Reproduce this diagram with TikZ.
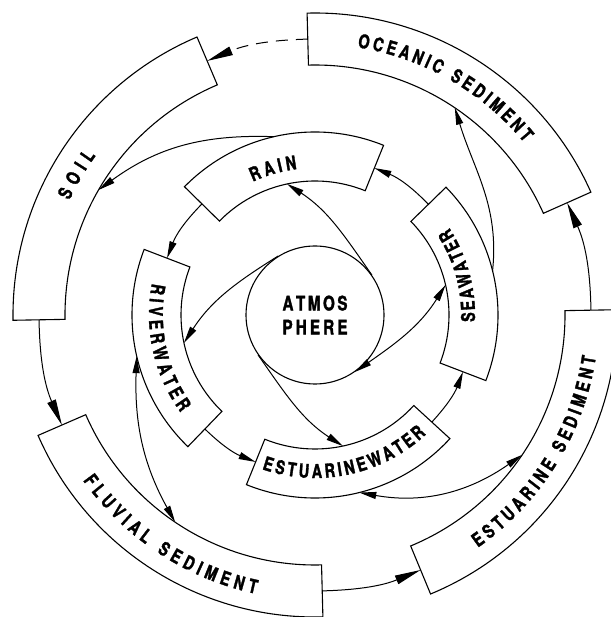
\documentclass[tikz,border=0pt]{standalone}
\usepackage{fontspec}
\newfontfamily\lblfont{TeX Gyre Heros}[FakeStretch=0.76, BoldFeatures={FakeBold=1.6}]
\usetikzlibrary{arrows.meta,decorations.text}
\newcommand{\lbl}{\lblfont\bfseries\fontsize{19}{21}\selectfont}
\tikzset{
  box/.style={draw, line width=1.1pt},
  flow/.style={line width=1pt, -{Triangle[length=17pt,width=7pt]}},
  twoway/.style={line width=1pt, {Triangle[length=17pt,width=7pt]}-{Triangle[length=17pt,width=7pt]}},
  bigflow/.style={line width=1pt, -{Triangle[length=26pt,width=9pt]}},
  ringtext/.style={decorate, decoration={text along path, text align={fit to path}, text={|\lbl|#1}}}
}
\begin{document}
\begin{tikzpicture}
\useasboundingbox (-315pt,-302pt) rectangle (295pt,315pt);
\foreach \a/\b/\r/\R in {68/135.5/134pt/183pt, 159/226/134pt/183pt, 248/317.5/134pt/183pt, -21/44.3/134pt/183pt,
    113/181/250pt/302pt, 203.5/271.5/250pt/302pt, 292.5/361/250pt/302pt, 24/91.5/250pt/302pt}
  \draw[box] (\a:\r) arc[start angle=\a, end angle=\b, radius=\r] -- (\b:\R)
    arc[start angle=\b, end angle=\a, radius=\R] -- cycle;
\node[circle, draw, line width=1.1pt, minimum size=138pt, inner sep=0pt, align=center,
  font=\lblfont\bfseries\fontsize{20}{24}\selectfont] (atm) at (0,0)
  {\makebox[65pt][s]{A\hfill T\hfill M\hfill O\hfill S}\\\makebox[65pt][s]{P\hfill H\hfill E\hfill R\hfill E}};

\coordinate (rain-e) at (68:158.5pt);
\coordinate (rain-w) at (135.5:158.5pt);
\coordinate (river-n) at (159:158.5pt);
\coordinate (river-s) at (226:158.5pt);
\coordinate (estw-w) at (248:158.5pt);
\coordinate (estw-e) at (317.5:158.5pt);
\coordinate (sea-s) at (-21:158.5pt);
\coordinate (sea-n) at (44.3:158.5pt);
\coordinate (soil-n) at (113:276pt);
\coordinate (soil-s) at (181:276pt);
\coordinate (fluv-w) at (203.5:276pt);
\coordinate (fluv-e) at (271.5:276pt);
\coordinate (estsed-s) at (292.5:276pt);
\coordinate (estsed-n) at (1:276pt);
\coordinate (ocean-e) at (24:276pt);
\coordinate (ocean-w) at (91.5:276pt);
\coordinate (rain-in) at (102:134pt);
\coordinate (rain-out) at (103:183pt);
\coordinate (river-in) at (192:134pt);
\coordinate (river-out) at (193:183pt);
\coordinate (estw-in) at (282:134pt);
\coordinate (estw-out) at (284:183pt);
\coordinate (sea-in) at (13:134pt);
\coordinate (sea-out) at (14:183pt);
\coordinate (soil-in) at (150:250pt);
\coordinate (ocean-in) at (56:250pt);
\coordinate (estsed-in) at (326:250pt);
\coordinate (fluv-in) at (236:250pt);

\draw[flow] (rain-w) to[bend right=11.75] (river-n);
\draw[flow] (river-s) to[bend right=11] (estw-w);
\draw[flow] (estw-e) to[bend right=10.75] (sea-s);
\draw[flow] (sea-n) to[bend right=11.85] (rain-e);
\draw[bigflow] (soil-s) to[bend right=11.25] (fluv-w);
\draw[bigflow] (fluv-e) to[bend right=10.5] (estsed-s);
\draw[bigflow] (estsed-n) to[bend right=11.5] (ocean-e);
\draw[bigflow, dash pattern=on 12pt off 8pt] (ocean-w) to[bend right=10.75] (soil-n);

\draw[flow] (atm.35) to[out=125, in=-33] (rain-in);
\draw[flow] (atm.122) to[out=212, in=57] (river-in);
\draw[flow] (atm.215) to[out=305, in=147] (estw-in);
\draw[twoway] (atm.305) to[out=35, in=-122] (sea-in);
\draw[flow] (rain-out) to[out=178, in=36] (soil-in);
\draw[flow] (sea-out) to[out=84, in=-73] (ocean-in);
\draw[twoway] (estw-out) to[out=350, in=215] (estsed-in);
\draw[twoway] (river-out) to[out=268, in=119] (fluv-in);

\path[ringtext=RAIN] (115:147pt) arc[start angle=115, end angle=97, radius=147pt];
\path[ringtext=SEAWATER] (-2.5:160pt) arc[start angle=-2.5, end angle=33, radius=160pt];
\path[ringtext=RIVERWATER] (169:166pt) arc[start angle=169, end angle=216, radius=166pt];
\path[ringtext=ESTUARINEWATER] (251:163pt) arc[start angle=251, end angle=313, radius=163pt];
\path[ringtext=SOIL] (155:271pt) arc[start angle=155, end angle=144, radius=271pt];
\path[ringtext=OCEANIC SEDIMENT] (81:271pt) arc[start angle=81, end angle=39.5, radius=271pt];
\path[ringtext=FLUVIAL SEDIMENT] (215.5:285pt) arc[start angle=215.5, end angle=258, radius=285pt];
\path[ringtext=ESTUARINE SEDIMENT] (305:284pt) arc[start angle=305, end angle=351.5, radius=284pt];
\end{tikzpicture}
\end{document}
